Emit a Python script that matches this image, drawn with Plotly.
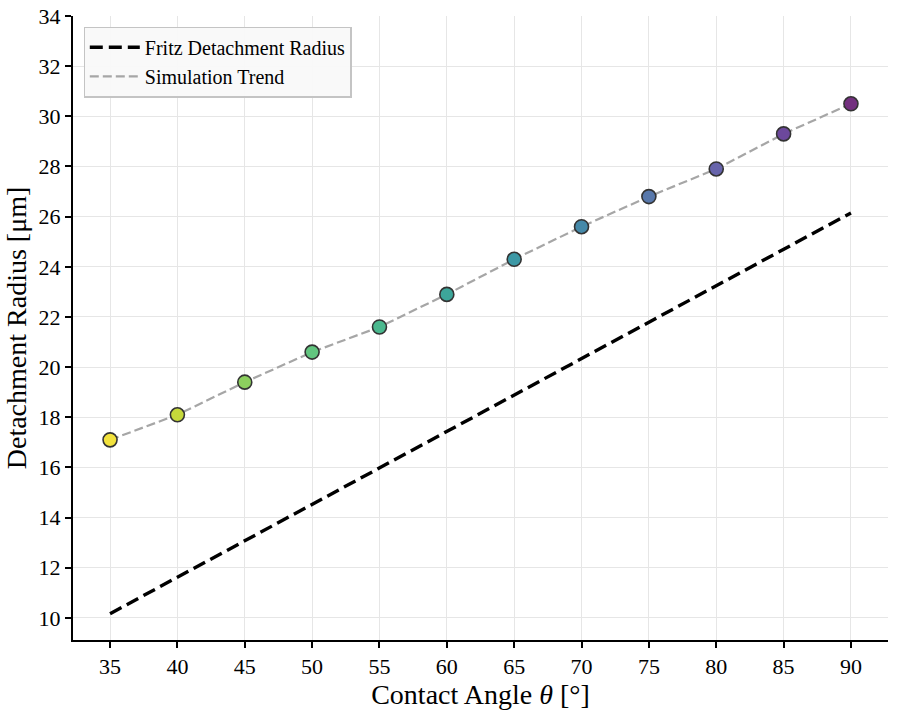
import plotly.graph_objects as go

angles = [35, 40, 45, 50, 55, 60, 65, 70, 75, 80, 85, 90]
sim_radius = [17.1, 18.1, 19.4, 20.6, 21.6, 22.9, 24.3, 25.6, 26.8, 27.9, 29.3, 30.5]
fritz_radius = [10.17, 11.62, 13.08, 14.53, 15.98, 17.44, 18.89, 20.34, 21.80, 23.25, 24.70, 26.15]
point_colors = ["#f2e23d", "#c5d83b", "#8ccf5e", "#62c57f", "#4ab88e", "#3da69a",
                "#3c98a5", "#4589a9", "#5878ab", "#6764ab", "#6c489c", "#73307f"]

x_ticks = [35, 40, 45, 50, 55, 60, 65, 70, 75, 80, 85, 90]
y_ticks = [10, 12, 14, 16, 18, 20, 22, 24, 26, 28, 30, 32, 34]

FONT = "Liberation Serif, Times New Roman, serif"

fig = go.Figure()
fig.add_trace(go.Scatter(
    x=angles, y=fritz_radius, mode="lines", name="Fritz Detachment Radius",
    line=dict(color="black", width=3.4, dash="13px,6px"),
))
fig.add_trace(go.Scatter(
    x=angles, y=sim_radius, mode="lines", name="Simulation Trend",
    line=dict(color="#a6a6a6", width=2.2, dash="9px,4px"),
))
fig.add_trace(go.Scatter(
    x=angles, y=sim_radius, mode="markers", showlegend=False,
    marker=dict(size=14, color=point_colors, line=dict(color="#333333", width=1.6)),
))

fig.update_layout(
    width=897, height=714,
    paper_bgcolor="white", plot_bgcolor="white",
    margin=dict(l=73, r=9, t=16, b=74),
    font=dict(family=FONT, color="black", size=18),
    showlegend=True,
    legend=dict(
        x=0.013, y=0.983, xanchor="left", yanchor="top",
        bgcolor="rgba(249,249,249,0.95)", bordercolor="#c4c4c4", borderwidth=1.2,
        font=dict(family=FONT, size=20, color="black"),
        tracegroupgap=0, itemwidth=50,
    ),
    xaxis=dict(
        range=[32.25, 92.75], tickvals=x_ticks, ticktext=[str(v) for v in x_ticks],
        showline=True, linecolor="black", linewidth=2, mirror=False,
        ticks="outside", ticklen=6, tickwidth=1.5, tickcolor="black",
        showgrid=True, gridcolor="#e6e6e6", gridwidth=1, zeroline=False,
        tickfont=dict(family=FONT, size=22), automargin=False,
        title=dict(text="Contact Angle <i>θ</i> [°]", font=dict(family=FONT, size=28), standoff=4),
    ),
    yaxis=dict(
        range=[9.12, 34], tickvals=y_ticks, ticktext=[str(v) for v in y_ticks],
        showline=True, linecolor="black", linewidth=2, mirror=False,
        ticks="outside", ticklen=6, tickwidth=1.5, tickcolor="black",
        showgrid=True, gridcolor="#e6e6e6", gridwidth=1, zeroline=False,
        tickfont=dict(family=FONT, size=22), automargin=False,
        title=dict(text="Detachment Radius [μm]", font=dict(family=FONT, size=28), standoff=4),
    ),
)

fig.write_html(
    "out.html",
    config={"displayModeBar": False},
    post_script="document.body.style.margin='0';document.body.style.padding='0';",
)
